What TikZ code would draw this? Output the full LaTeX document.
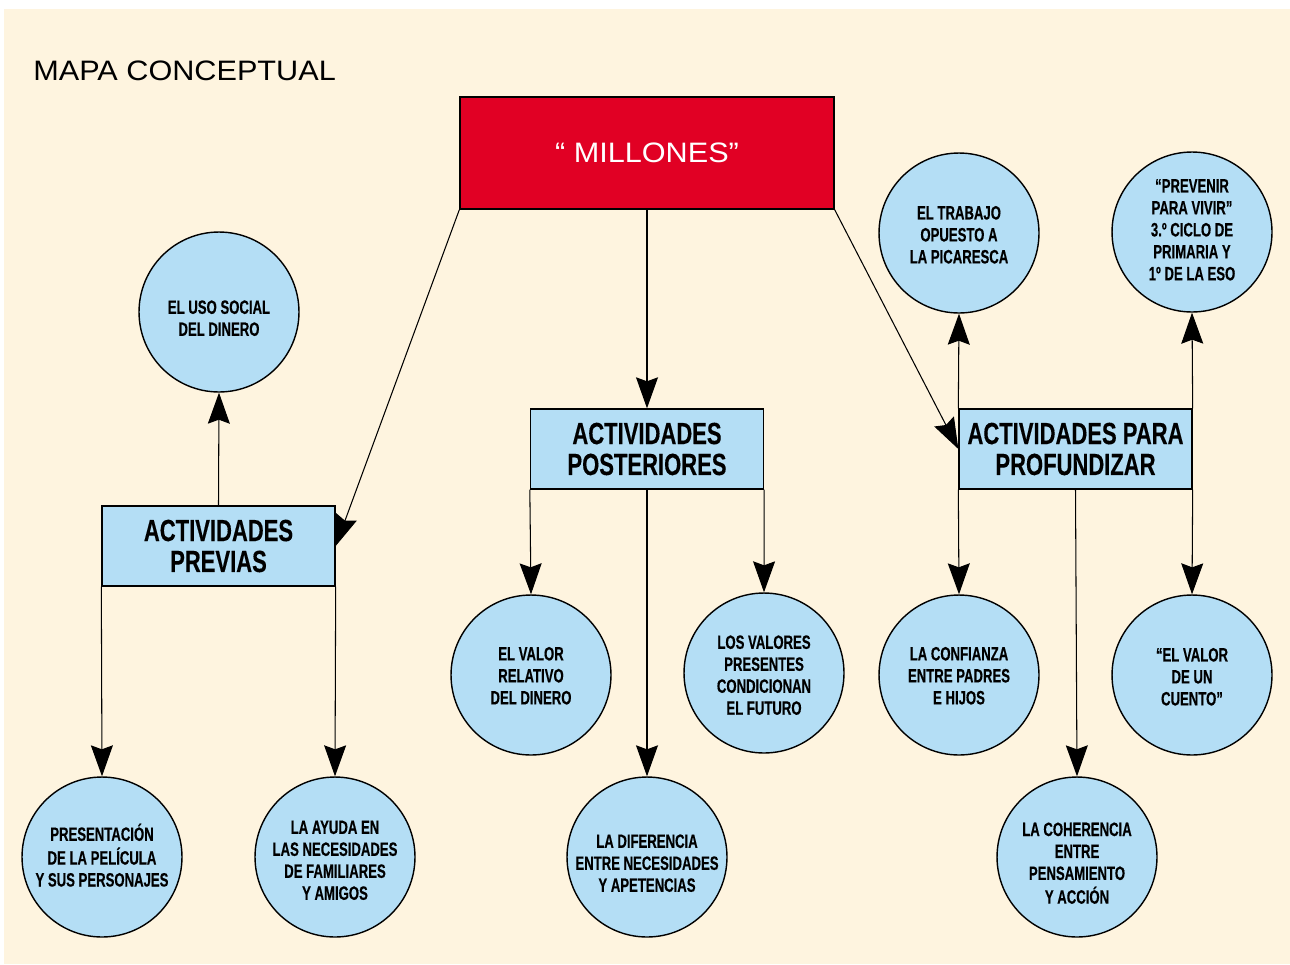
\documentclass[tikz,border=0pt]{standalone}
\usepackage{fontspec}
\setmainfont{Liberation Sans}
\newfontfamily\condfont[FakeStretch=0.68,FakeBold=0.4]{Liberation Sans}
\newfontfamily\boxfont[FakeStretch=0.72,FakeBold=0.3]{Liberation Sans}
\newfontfamily\widefont[FakeStretch=1.09]{Liberation Sans}
\usetikzlibrary{arrows.meta}
\definecolor{crema}{RGB}{254,244,223}
\definecolor{rojo}{RGB}{225,0,36}
\definecolor{azul}{RGB}{180,222,245}
% text of a circle, moved a little down (or up) from its centre
\newcommand{\ideatxt}[2][-4.8pt]{\raisebox{#1}[\height][\depth]{\begin{tabular}{@{}c@{}}#2\end{tabular}}}
\begin{document}
\begin{tikzpicture}[x=0.02cm,y=-0.02cm,
    >={Stealth[length=0.62cm,width=0.44cm,inset=0.08cm]},
    idea/.style={circle,draw,line width=0.8pt,fill=azul,minimum size=3.2cm,inner sep=0pt,
        font=\condfont\bfseries\fontsize{11}{12.5}\selectfont},
    actbox/.style={rectangle,draw,line width=0.8pt,fill=azul,minimum width=4.66cm,minimum height=1.6cm,align=center,
        font=\boxfont\bfseries\fontsize{17.4}{17.6}\selectfont},
    link/.style={->,line width=0.6pt}]
            \useasboundingbox (0,0) rectangle (1290,964);
            \fill[crema] (4,9) rectangle (1290,964);
            \node[anchor=base west,inner sep=0pt,font=\widefont\fontsize{16}{19}\selectfont] (titulo) at (33,80) {MAPA CONCEPTUAL};

            \node[rectangle,draw,line width=0.8pt,fill=rojo,text=white,minimum width=7.48cm,minimum height=2.24cm,
                font=\widefont\fontsize{16}{19}\selectfont] (mill) at (647,153) {“ MILLONES”};

            \node[actbox] (prev) at (218.5,546) {ACTIVIDADES\\PREVIAS};
            \node[actbox] (post) at (647,449) {ACTIVIDADES\\POSTERIORES};
            \node[actbox] (prof) at (1075.5,449) {ACTIVIDADES PARA\\PROFUNDIZAR};

            \node[idea] (uso) at (219,312) {\ideatxt{EL USO SOCIAL\\DEL DINERO}};
            \node[idea] (pres) at (102,857) {\ideatxt[-0.8pt]{PRESENTACIÓN\\DE LA PELÍCULA\\Y SUS PERSONAJES}};
            \node[idea] (ayuda) at (335,857) {\ideatxt[-3.1pt]{LA AYUDA EN\\LAS NECESIDADES\\DE FAMILIARES\\Y AMIGOS}};
            \node[idea] (relat) at (531,675) {\ideatxt[-1.7pt]{EL VALOR\\RELATIVO\\DEL DINERO}};
            \node[idea] (difer) at (647,857) {\ideatxt{LA DIFERENCIA\\ENTRE NECESIDADES\\Y APETENCIAS}};
            \node[idea] (valor) at (764,673) {\ideatxt[-2.5pt]{LOS VALORES\\PRESENTES\\CONDICIONAN\\EL FUTURO}};
            \node[idea] (trab) at (959,233) {\ideatxt[-2.3pt]{EL TRABAJO\\OPUESTO A\\LA PICARESCA}};
            \node[idea] (prevenir) at (1192,232) {\ideatxt[0pt]{“PREVENIR\\PARA VIVIR”\\3.º CICLO DE\\PRIMARIA Y\\1º DE LA ESO}};
            \node[idea] (confi) at (959,675) {\ideatxt[-1.7pt]{LA CONFIANZA\\ENTRE PADRES\\E HIJOS}};
            \node[idea] (cuento) at (1192,675) {\ideatxt[-2.3pt]{“EL VALOR\\DE UN\\CUENTO”}};
            \node[idea] (coher) at (1077,857) {\ideatxt{LA COHERENCIA\\ENTRE\\PENSAMIENTO\\Y ACCIÓN}};

            \draw[link] (mill.south west) -- (prev.east); \draw[link] (mill.south) -- (post.north); \draw[link] (mill.south east) -- (prof.west);
            \draw[link] (prev.north) -- (uso.south); \draw[link] (prev.south west) -- (pres.north); \draw[link] (prev.south east) -- (ayuda.north);
            \draw[link] (post.south west) -- (relat.north); \draw[link] (post.south) -- (difer.north); \draw[link] (post.south east) -- (valor.north);
            \draw[link] (prof.north west) -- (trab.south); \draw[link] (prof.north east) -- (prevenir.south);
            \draw[link] (prof.south west) -- (confi.north); \draw[link] (prof.south) -- (coher.north); \draw[link] (prof.south east) -- (cuento.north);
        \end{tikzpicture}
\end{document}
